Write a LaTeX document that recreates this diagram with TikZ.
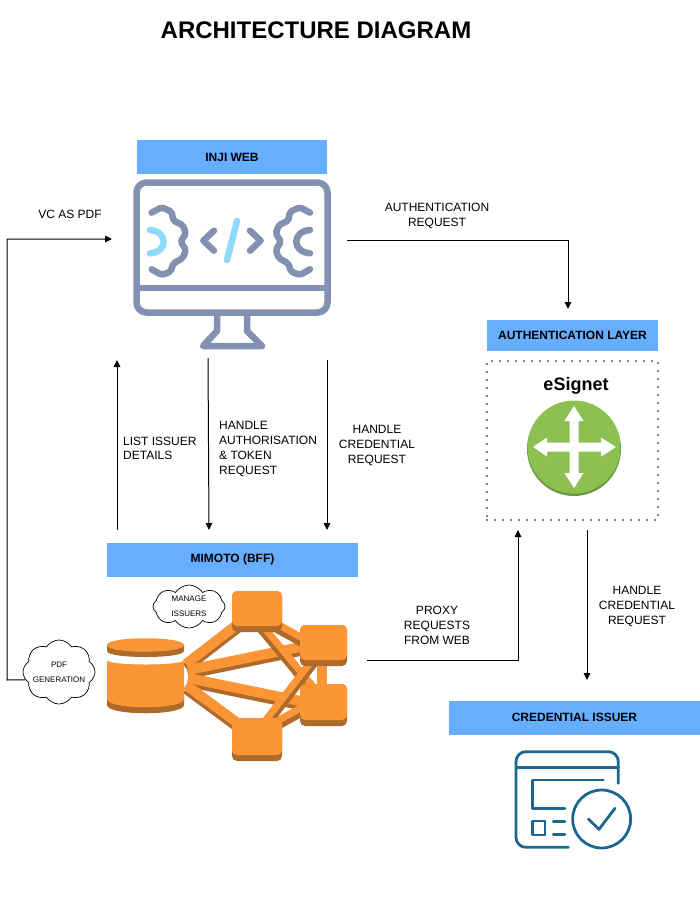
\documentclass[tikz,border=0pt]{standalone}
\usepackage{fontspec}
\setmainfont{Liberation Sans}
\usetikzlibrary{arrows.meta,shapes.symbols}

\definecolor{bannerblue}{HTML}{66AEFF}
\definecolor{webgrey}{HTML}{8291B0}
\definecolor{weblight}{HTML}{8FD9FB}
\definecolor{awsorange}{HTML}{FC9535}
\definecolor{awsdark}{HTML}{AD6A2A}
\definecolor{netgreen}{HTML}{8CC151}
\definecolor{netdark}{HTML}{6C9A42}
\definecolor{issuerblue}{HTML}{1C6690}

\tikzset{
    banner/.style={fill=bannerblue, minimum height=34pt, font=\fontsize{12}{14}\selectfont\bfseries, inner sep=0pt},
    label/.style={font=\fontsize{12}{15}\selectfont, align=center, inner sep=0pt},
    leftlabel/.style={font=\fontsize{12}{14.7}\selectfont, align=left, inner sep=0pt, anchor=north west},
    flow/.style={draw, line width=1pt, -{Triangle[length=7pt,width=6.5pt]}},
    webline/.style={draw=webgrey, line width=6.5pt, line cap=round, line join=round},
    issuerline/.style={draw=issuerblue, line width=2.8pt, line cap=round, line join=round},
    awscloud/.style={draw, cloud, cloud puffs=8, cloud puff arc=115, cloud ignores aspect, inner sep=-7pt, line width=0.7pt, align=center, font=\fontsize{8}{15}\selectfont},
    awslink/.style={draw=awsorange, line width=10pt, preaction={draw=awsdark, line width=10pt, transform canvas={yshift=-4pt}}},
    awsbox/.style={fill=awsorange, rounded corners=5pt},
    awsboxshade/.style={fill=awsdark, rounded corners=5pt}
}

\begin{document}
\begin{tikzpicture}[x=1pt, y=-1pt]
    \useasboundingbox (0, 0) rectangle (700, 900);

    \node[font=\fontsize{24}{28}\selectfont\bfseries] (title) at (316, 30) {ARCHITECTURE DIAGRAM};

    % inji web
    \node[banner, minimum width=190pt] (injiweb) at (232, 157) {INJI WEB};

    \draw[webline, rounded corners=10pt] (136.5, 182.5) rectangle (327.5, 312.5);
    \draw[webline, line cap=butt] (136.5, 288) -- (327.5, 288);
    \draw[webline] (217, 316) -- (217, 331) -- (203, 346) -- (262, 346) -- (247, 331) -- (247, 316);

    \begin{scope}[shift={(110, 130)}, x=0.3333pt, y=-0.3333pt]
        \draw[webline, rounded corners=2pt] (125, 248) -- (155, 232) -- (185, 245) -- (190, 272) -- (218, 285) -- (228, 310) -- (212, 335) -- (228, 360) -- (218, 385) -- (190, 400) -- (182, 425) -- (155, 435) -- (125, 418);
        \draw[webline, rounded corners=2pt] (600, 248) -- (570, 232) -- (540, 245) -- (535, 272) -- (507, 285) -- (497, 310) -- (513, 335) -- (497, 360) -- (507, 385) -- (535, 400) -- (543, 425) -- (570, 435) -- (600, 418);
        \draw[webline, draw=weblight] (120, 300) .. controls (175, 305) and (175, 365) .. (120, 370);
        \draw[webline] (600, 300) .. controls (545, 305) and (545, 365) .. (600, 370);
        \draw[webline] (312, 302) -- (280, 332) -- (312, 362);
        \draw[webline] (420, 302) -- (452, 332) -- (420, 362);
        \draw[webline, draw=weblight] (381, 273) -- (351, 390);
    \end{scope}

    % mimoto
    \node[banner, minimum width=251pt] (mimoto) at (232.5, 559.5) {MIMOTO (BFF)};

    \draw[awslink] (186, 664) -- (243, 620);
    \draw[awslink] (188, 670) -- (310, 645);
    \draw[awslink] (188, 678) -- (310, 703);
    \draw[awslink] (186, 685) -- (243, 727);
    \draw[awslink, line width=7pt] (270, 620) -- (315, 645);
    \draw[awslink, line width=7pt] (262, 625) -- (320, 695);
    \draw[awslink, line width=7pt] (262, 725) -- (320, 650);
    \draw[awslink, line width=7pt] (270, 725) -- (315, 700);
    \draw[draw=awsorange, line width=10pt] (322, 650) -- (322, 700);

    \path[awsboxshade] (232, 591) rectangle (282, 632);
    \path[awsbox] (232, 591) rectangle (282, 626);
    \path[awsboxshade] (300, 625) rectangle (347, 666);
    \path[awsbox] (300, 625) rectangle (347, 660);
    \path[awsboxshade] (300, 684) rectangle (347, 726);
    \path[awsbox] (300, 684) rectangle (347, 720);
    \path[awsboxshade] (232, 718) rectangle (282, 761);
    \path[awsbox] (232, 718) rectangle (282, 755);

    \fill[awsdark] (107, 645) -- (107, 651) .. controls (107, 659) and (184, 659) .. (184, 651) -- (184, 645) -- cycle;
    \fill[awsorange] (107, 645) .. controls (107, 636) and (184, 636) .. (184, 645) .. controls (184, 654) and (107, 654) .. (107, 645) -- cycle;
    \fill[awsdark] (107, 695) -- (107, 705) .. controls (107, 716) and (184, 716) .. (184, 705) -- (184, 695) -- cycle;
    \fill[awsorange] (107, 660) .. controls (107, 666) and (184, 666) .. (184, 660) -- (184, 699) .. controls (184, 710) and (107, 710) .. (107, 699) -- cycle;

    \node[awscloud, minimum width=72pt, minimum height=43pt] (manageissuers) at (189, 606.5) {MANAGE\\ISSUERS};
    \node[awscloud, fill=white, minimum width=72pt, minimum height=64pt] (pdfgeneration) at (59, 672) {PDF\\GENERATION};

    % authentication layer
    \node[banner, minimum width=171pt, minimum height=31pt] (authlayer) at (572.5, 335.5) {AUTHENTICATION LAYER};
    \node[draw, dash pattern=on 0pt off 8pt, line cap=round, line width=1.8pt, minimum width=171pt, minimum height=159pt, inner sep=0pt] (esignetbox) at (572.5, 440.5) {};
    \node[font=\fontsize{18}{20}\selectfont\bfseries] (esignet) at (576, 386) {eSignet};

    \fill[netdark] (574, 449) circle[radius=47pt];
    \fill[netgreen] (574, 447) circle[radius=46.5pt];
    \fill[white] (574, 406) -- (583.5, 421) -- (578.5, 421) -- (578.5, 442.5) -- (601, 442.5) -- (601, 437.5) -- (616, 447) -- (601, 456.5) -- (601, 451.5) -- (578.5, 451.5) -- (578.5, 473) -- (583.5, 473) -- (574, 488) -- (564.5, 473) -- (569.5, 473) -- (569.5, 451.5) -- (547, 451.5) -- (547, 456.5) -- (533, 447) -- (547, 437.5) -- (547, 442.5) -- (569.5, 442.5) -- (569.5, 421) -- (564.5, 421) -- cycle;

    % credential issuer
    \node[banner, minimum width=251pt] (issuer) at (574.5, 717.5) {CREDENTIAL ISSUER};

    \begin{scope}[shift={(500, 740)}, x=0.3333pt, y=-0.3333pt]
        \draw[issuerline, rounded corners=10pt] (205, 322) -- (48, 322) -- (48, 35) -- (355, 35) -- (355, 130);
        \draw[issuerline] (48, 82) -- (355, 82);
        \draw[issuerline] (310, 120) -- (97, 120) -- (97, 205) -- (195, 205);
        \draw[issuerline] (97, 243) rectangle (135, 285);
        \draw[issuerline] (160, 245) -- (195, 245);
        \draw[issuerline] (160, 283) -- (195, 283);
        \draw[issuerline] (305, 237) circle[radius=29pt];
        \draw[issuerline] (265, 237) -- (297, 268) -- (345, 205);
    \end{scope}

    % connectors
    \coordinate (webright) at (347, 240);
    \coordinate (authtop) at (568, 309);
    \coordinate (webleft) at (112, 239);
    \coordinate (pdfturn) at (7, 680);
    \coordinate (webturn) at (7, 239);
    \coordinate (listfrom) at (117, 530);
    \coordinate (listto) at (117, 360);
    \coordinate (tokenfrom) at (208, 358);
    \coordinate (tokento) at (209, 530);
    \coordinate (credfrom) at (327, 360);
    \coordinate (credto) at (327, 530);
    \coordinate (proxyfrom) at (367, 660);
    \coordinate (proxyto) at (518, 530);
    \coordinate (issuerfrom) at (587, 530);
    \coordinate (issuerto) at (587, 680);

    \draw[flow] (webright) -| (authtop);
    \draw[flow] (pdfgeneration.193) -- (pdfturn) -- (webturn) -- (webleft);
    \draw[flow] (listfrom) -- (listto);
    \draw[flow] (tokenfrom) -- (tokento);
    \draw[flow] (credfrom) -- (credto);
    \draw[flow] (proxyfrom) -| (proxyto);
    \draw[flow] (issuerfrom) -- (issuerto);

    \node[label] (vcaspdf) at (70, 214) {VC AS PDF};
    \node[label] (authrequest) at (437, 216) {AUTHENTICATION\\REQUEST};
    \node[leftlabel] (listissuer) at (123, 436.5) {LIST ISSUER\\DETAILS};
    \node[leftlabel] (tokenrequest) at (219, 421.5) {HANDLE\\AUTHORISATION\\\& TOKEN\\REQUEST};
    \node[label] (credrequest) at (377, 445) {HANDLE\\CREDENTIAL\\REQUEST};
    \node[label] (proxyrequest) at (437, 625) {PROXY\\REQUESTS\\FROM WEB};
    \node[label] (issuerrequest) at (637, 606) {HANDLE\\CREDENTIAL\\REQUEST};
\end{tikzpicture}
\end{document}
